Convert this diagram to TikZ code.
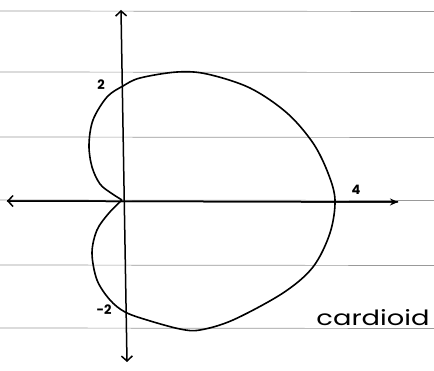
\documentclass[tikz,border=0pt]{standalone}
\usepackage{fontspec}
\setmainfont{Poppins}
\usetikzlibrary{arrows.meta}
\begin{document}
\begin{tikzpicture}[x=1pt,y=-1pt,
  ruled/.style={draw=black!40,line width=0.7pt},
  axis/.style={draw=black,line width=1.5pt},
  curve/.style={draw=black,line width=1.6pt},
  lbl/.style={font=\fontsize{13}{13}\selectfont\bfseries,inner sep=1pt}]
\useasboundingbox (0,0) rectangle (434,371);
\fill[white] (0,0) rectangle (434,371);
% ruled paper lines
\foreach \yy in {11,72,137,200,265,328}
  \draw[ruled] (0,\yy) -- (434,\yy+0.5);
% axes
\coordinate (xl) at (7,201);
\coordinate (xr) at (398,202);
\coordinate (yt) at (121,10);
\coordinate (yb) at (127,362);
\draw[axis,-{Stealth[length=8pt,width=7pt]}] (xl) -- (xr);
\draw[axis,{Straight Barb[length=5pt,width=11pt]}-] (xl) -- (xr);
\draw[axis,{Straight Barb[length=5pt,width=11pt]}-{Straight Barb[length=5pt,width=11pt]}] (yt) -- (yb);
% cardioid
\draw[curve,line join=miter] plot[smooth,tension=0.55] coordinates {
 (122,200) (111,193) (100,184) (92,167) (89,145) (93,120) (107,97) (123,86)
 (140,78) (177,72) (207,74) (250,88) (287,113) (313,143) (328,173) (335,200)
 (330,233) (313,267) (283,293) (233,320) (200,330) (180,329) (147,320)
 (125,312) (110,300) (97,280) (92,253) (97,230) (109,213) (122,200)};
% labels
\node[lbl] (l2) at (101,85) {2};
\node[lbl] (lm2) at (104,310) {-2};
\node[lbl] (l4) at (356,190) {4};
\node[inner sep=0pt,xscale=1.3,font=\fontsize{21}{21}\selectfont] (lc) at (373,318) {cardioid};
\end{tikzpicture}
\end{document}
